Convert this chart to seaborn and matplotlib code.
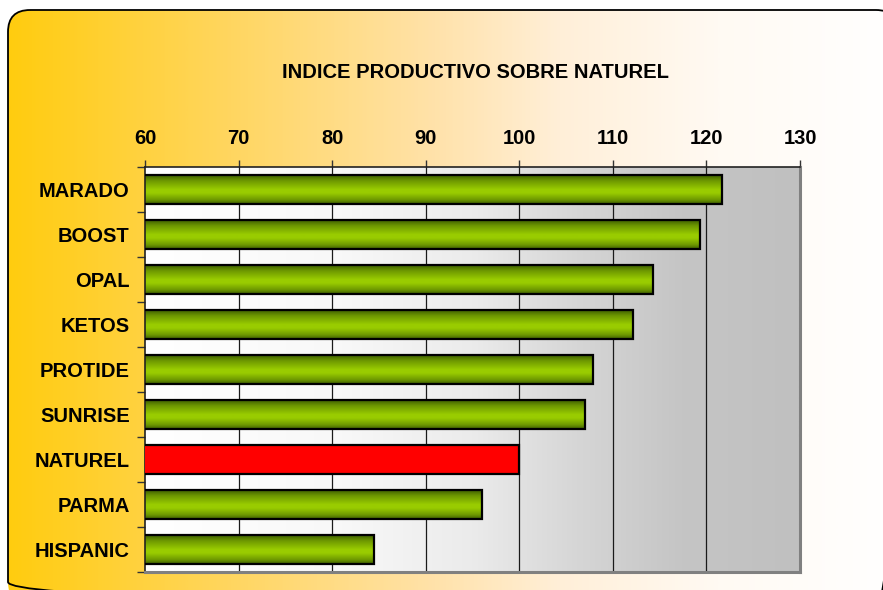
import numpy as np
import pandas as pd
import matplotlib
matplotlib.use("Agg")
import matplotlib.pyplot as plt
import seaborn as sns
from matplotlib.colors import LinearSegmentedColormap
from matplotlib.patches import FancyBboxPatch

categories = ["MARADO", "BOOST", "OPAL", "KETOS", "PROTIDE", "SUNRISE", "NATUREL", "PARMA", "HISPANIC"]
values = [121.7, 119.3, 114.3, 112.2, 107.9, 107.0, 100.0, 96.0, 84.5]
highlight = "NATUREL"
title = "INDICE PRODUCTIVO SOBRE NATUREL"
xticks = [60, 70, 80, 90, 100, 110, 120, 130]

plt.rcParams['font.family'] = ['Liberation Sans', 'DejaVu Sans']

W, H = 883, 590
fig = plt.figure(figsize=(W / 100, H / 100), dpi=100)
fig.patch.set_facecolor("white")

# ---- background frame with gradient ----
bg = fig.add_axes([0, 0, 1, 1], zorder=-1)
bg.set_xlim(0, W)
bg.set_ylim(H, 0)
bg.axis("off")
frame_cmap = LinearSegmentedColormap.from_list(
    "frame", [(0.0, "#FFCC0F"), (0.25, "#FFD660"), (0.48, "#FFE2AA"),
              (0.62, "#FFEFD8"), (0.8, "#FFFAF3"), (1.0, "#FFFFFF")])
frame = FancyBboxPatch((8, 10), 890, 594, boxstyle="round,pad=0,rounding_size=22",
                       facecolor="none", edgecolor="black", linewidth=1.3, zorder=3)
bg.add_patch(frame)
grad = np.linspace(0, 1, 512).reshape(1, -1)
im = bg.imshow(grad, cmap=frame_cmap, extent=(8, 898, 604, 10), aspect="auto", zorder=1)
im.set_clip_path(frame)

fig.text(475.5 / W, 1 - 72 / H, title, ha="center", va="center",
         fontsize=14.5, fontweight="bold", color="black")

# ---- main axes ----
ax = fig.add_axes([145 / W, 1 - 572 / H, (800 - 145) / W, (572 - 167) / H])
df = pd.DataFrame({"cat": categories, "val": values})
sns.barplot(data=df, y="cat", x="val", orient="h", ax=ax, width=0.64,
            color="#99cc00", edgecolor="black", linewidth=1.6, zorder=3)

ax.set_xlim(60, 130)
ax.set_ylim(len(categories) - 0.5, -0.5)

# plot area gradient
area_cmap = LinearSegmentedColormap.from_list(
    "area", [(0.0, "#FFFFFF"), (0.3, "#F8F8F8"), (0.5, "#EBEBEB"),
             (0.66, "#D6D6D6"), (0.82, "#C5C5C5"), (1.0, "#C0C0C0")])
ax.imshow(grad, cmap=area_cmap, extent=(60, 130, len(categories) - 0.5, -0.5),
          aspect="auto", zorder=0)
ax.patch.set_visible(False)

# bar gradients
bar_cmap = LinearSegmentedColormap.from_list(
    "bar", [(0.0, "#3F5F00"), (0.2, "#6E9900"), (0.5, "#9ACC00"),
            (0.62, "#99CC00"), (0.85, "#6E9900"), (1.0, "#3F5F00")])
vgrad = np.linspace(0, 1, 256).reshape(-1, 1)
for p, cat in zip(ax.patches, categories):
    x0, y0 = p.get_x(), p.get_y()
    w, h = p.get_width(), p.get_height()
    left = max(x0, 60)
    if cat == highlight:
        p.set_facecolor("#FF0000")
        continue
    p.set_facecolor("none")
    img = ax.imshow(vgrad, cmap=bar_cmap, extent=(left, x0 + w, y0 + h, y0),
                    aspect="auto", zorder=2)
    img.set_clip_path(p)

ax.set_xlim(60, 130)
ax.set_ylim(len(categories) - 0.5, -0.5)

# grid
for xv in xticks[1:-1]:
    ax.axvline(xv, color="#1a1a1a", linewidth=0.9, zorder=1)

# ticks
ax.xaxis.tick_top()
ax.set_xticks(xticks)
ax.set_xticklabels([str(v) for v in xticks], fontsize=14.5, fontweight="bold")
ax.tick_params(axis="x", which="major", length=5, width=1, pad=9, color="#333333")
ax.set_yticks(range(len(categories)))
ax.set_yticklabels(categories, fontsize=14.5, fontweight="bold")
ax.tick_params(axis="y", which="major", length=0, pad=11)
ax.set_yticks(np.arange(-0.5, len(categories), 1.0), minor=True)
ax.tick_params(axis="y", which="minor", length=6, width=1, direction="out", color="#333333")
ax.set_xlabel("")
ax.set_ylabel("")

for s in ["top", "left"]:
    ax.spines[s].set_color("#222222")
    ax.spines[s].set_linewidth(1.2)
for s in ["right", "bottom"]:
    ax.spines[s].set_color("#808080")
    ax.spines[s].set_linewidth(2.2)

fig.savefig("out.png", dpi=100)
